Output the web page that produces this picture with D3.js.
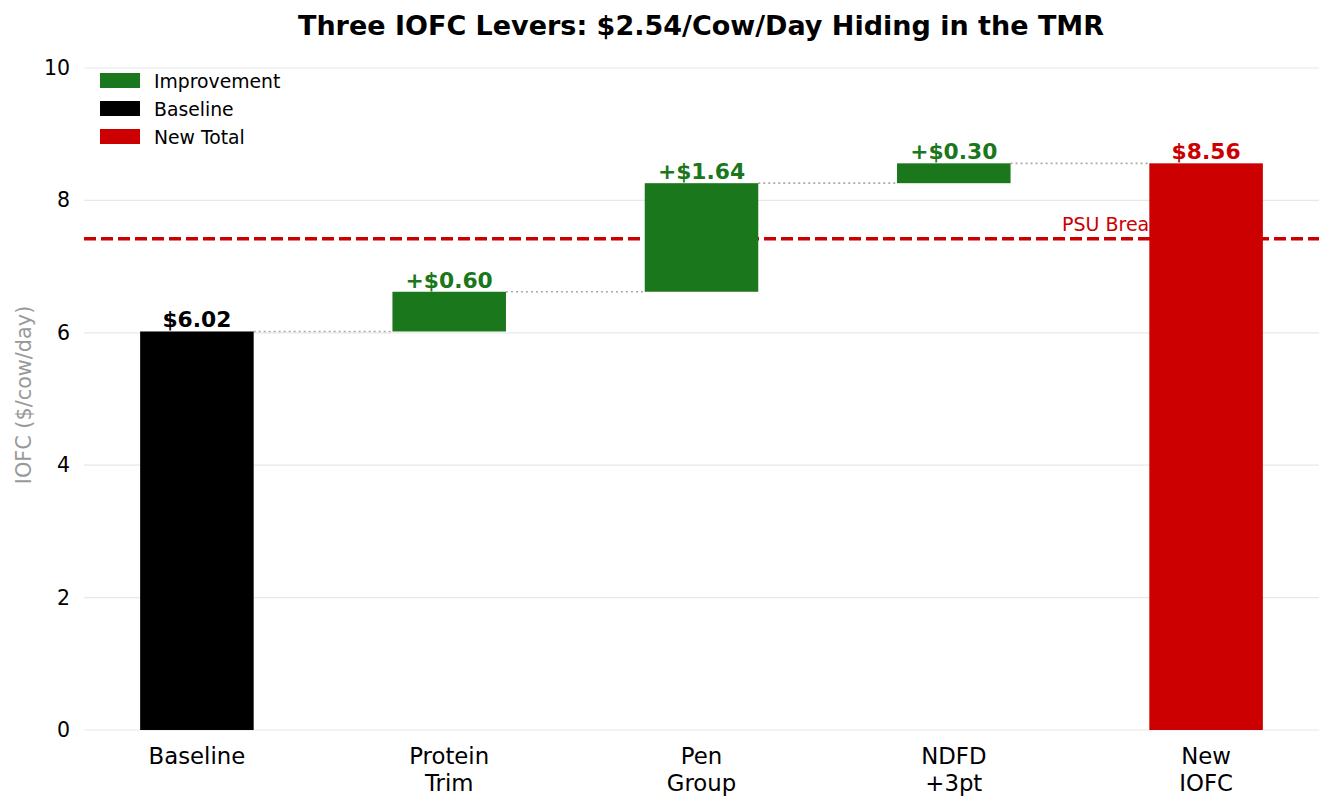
<!DOCTYPE html>
<html><head><meta charset="utf-8">
<script src="https://cdn.jsdelivr.net/npm/d3@7"></script>
<style>body{margin:0;background:#fff}svg{display:block;font-family:"DejaVu Sans",sans-serif}</style>
</head><body>
<svg id="c" width="1334" height="809"></svg>
<script>
const categories = ["Baseline", "Protein\nTrim", "Pen\nGroup", "NDFD\n+3pt", "New\nIOFC"];
const values = [6.02, 0.60, 1.64, 0.30, 8.56];
const kinds = ["base", "imp", "imp", "imp", "total"];
const labels = ["$6.02", "+$0.60", "+$1.64", "+$0.30", "$8.56"];
const yTicks = [0, 2, 4, 6, 8, 10];
const gridTicks = [0, 2, 4, 6, 8, 10];
const breakeven = 7.42;
const legendItems = [["Improvement", "imp"], ["Baseline", "base"], ["New Total", "total"]];
const colors = {imp: "#1b771b", base: "#000000", total: "#cc0000"};

const svg = d3.select("#c");
const x = d3.scaleLinear().domain([-0.4475, 4.4475]).range([84, 1319]);
const y = d3.scaleLinear().domain([0, 10]).range([730, 68]);
const bw = 0.45;

let run = 0;
const bars = values.map((v, i) => {
  let b0, b1;
  if (kinds[i] === "imp") { b0 = run; b1 = run + v; run = b1; }
  else { b0 = 0; b1 = v; run = v; }
  return {i, b0, b1, kind: kinds[i], label: labels[i]};
});

// grid
svg.append("g").selectAll("line").data(gridTicks).join("line")
  .attr("x1", x.range()[0]).attr("x2", x.range()[1])
  .attr("y1", d => y(d)).attr("y2", d => y(d))
  .attr("stroke", "#e8e8e8").attr("stroke-width", 1.2);

// y axis
const ya = svg.append("g").attr("transform", `translate(${x.range()[0]},0)`)
  .call(d3.axisLeft(y).tickValues(yTicks).tickSize(0).tickPadding(14).tickFormat(d3.format("d")));
ya.select(".domain").remove();
ya.selectAll("text").attr("font-size", 20.5).attr("fill", "#000").attr("font-family", "DejaVu Sans");

// x axis labels
const xa = svg.append("g");
categories.forEach((c, i) => {
  const t = xa.append("text").attr("x", x(i)).attr("y", 764).attr("text-anchor", "middle")
    .attr("font-size", 22.8).attr("fill", "#000");
  c.split("\n").forEach((ln, k) => t.append("tspan").attr("x", x(i)).attr("dy", k ? 26.5 : 0).text(ln));
});

// y label
svg.append("text").attr("transform", `translate(31,${y(5) - 4}) rotate(-90)`).attr("text-anchor", "middle")
  .attr("font-size", 20.8).attr("fill", "#999").text("IOFC ($/cow/day)");

// title
svg.append("text").attr("x", 701).attr("y", 35).attr("text-anchor", "middle")
  .attr("font-size", 27).attr("font-weight", "bold").attr("fill", "#000")
  .text("Three IOFC Levers: $2.54/Cow/Day Hiding in the TMR");

// breakeven line + text
svg.append("line").attr("x1", x.range()[0]).attr("x2", x.range()[1])
  .attr("y1", y(breakeven)).attr("y2", y(breakeven))
  .attr("stroke", "#cc0000").attr("stroke-width", 3.4).attr("stroke-dasharray", "12,5");
svg.append("text").attr("x", 1062).attr("y", y(breakeven) - 8).attr("font-size", 19)
  .attr("fill", "#cc0000").text("PSU Breakeven");

// connectors
for (let k = 0; k < bars.length - 1; k++) {
  const top = bars[k].b1;
  svg.append("line").attr("x1", x(k + bw / 2)).attr("x2", x(k + 1 - bw / 2))
    .attr("y1", y(top)).attr("y2", y(top))
    .attr("stroke", "#aaa").attr("stroke-width", 1.7).attr("stroke-dasharray", "2,3");
}

// bars
svg.append("g").selectAll("rect").data(bars).join("rect")
  .attr("x", d => x(d.i - bw / 2)).attr("width", d => x(d.i + bw / 2) - x(d.i - bw / 2))
  .attr("y", d => y(d.b1)).attr("height", d => y(d.b0) - y(d.b1))
  .attr("fill", d => colors[d.kind]);

// bar labels
svg.append("g").selectAll("text").data(bars).join("text")
  .attr("x", d => x(d.i)).attr("y", d => y(d.b1) - 4).attr("text-anchor", "middle")
  .attr("font-size", 21.8).attr("font-weight", "bold").attr("fill", d => colors[d.kind])
  .text(d => d.label);

// legend
const lg = svg.append("g");
legendItems.forEach(([name, k], j) => {
  lg.append("rect").attr("x", 100).attr("y", 73 + j * 28).attr("width", 40).attr("height", 15).attr("fill", colors[k]);
  lg.append("text").attr("x", 154).attr("y", 88 + j * 28).attr("font-size", 18.8).attr("fill", "#000").text(name);
});
</script>
</body></html>
